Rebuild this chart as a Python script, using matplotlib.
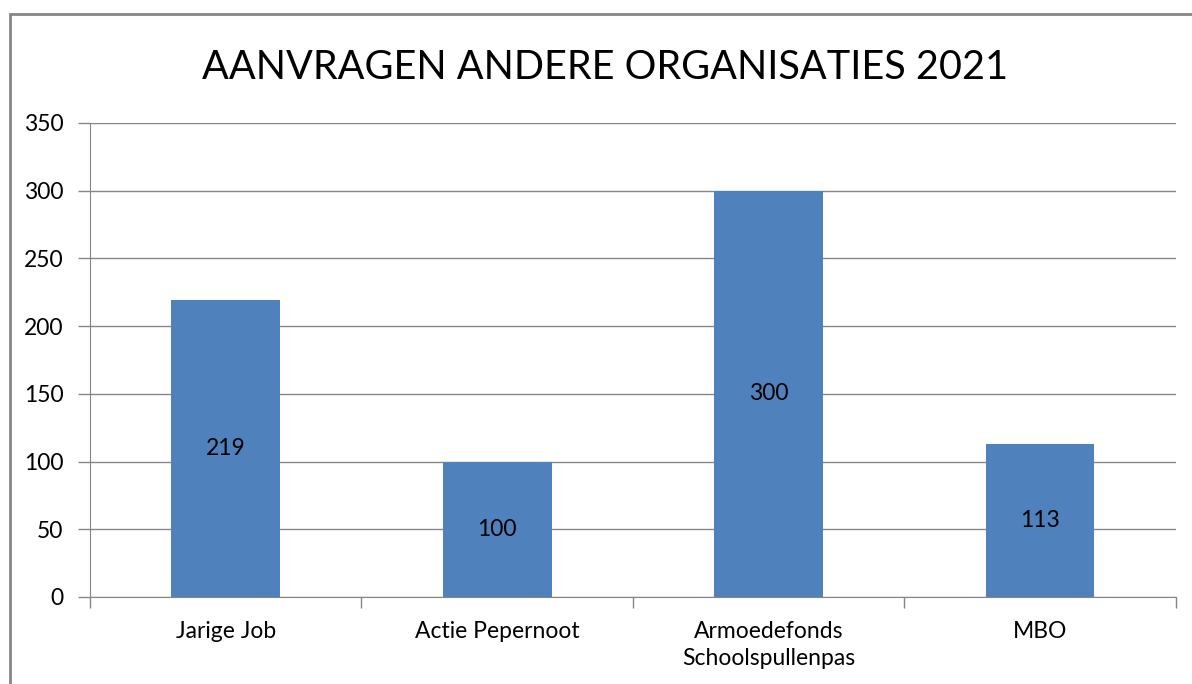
import matplotlib.pyplot as plt
from matplotlib.patches import Rectangle

categories = ['Jarige Job', 'Actie Pepernoot', 'Armoedefonds\nSchoolspullenpas', 'MBO']
values = [219, 100, 300, 113]
yticks = [0, 50, 100, 150, 200, 250, 300, 350]

plt.rcParams['font.family'] = ['Lato', 'DejaVu Sans']

bar_color = '#4F81BD'
grid_color = '#868686'

fig = plt.figure(figsize=(11.92, 6.84), dpi=100)
ax = fig.add_axes([0.0755, 0.1272, 0.911, 0.693])

x = list(range(len(categories)))
bars = ax.bar(x, values, width=0.4, color=bar_color, zorder=3)

# value labels in the middle of each bar
for xi, v in zip(x, values):
    ax.text(xi, v / 2, str(v), ha='center', va='center', fontsize=16.5, color='black', zorder=4)

ax.set_xlim(-0.5, len(categories) - 0.5)
ax.set_ylim(0, 350)
ax.set_yticks(yticks)
ax.set_yticklabels([str(t) for t in yticks], fontsize=16.5)
ax.yaxis.grid(True, color=grid_color, linewidth=1, zorder=0)

# category labels centred, ticks on category boundaries
ax.set_xticks(x)
ax.set_xticklabels(categories, fontsize=16.5, linespacing=1.4)
ax.tick_params(axis='x', length=0, pad=17)
ax.set_xticks([i + 0.5 for i in range(-1, len(categories))], minor=True)
ax.tick_params(axis='x', which='minor', length=8, color=grid_color, width=1)
ax.tick_params(axis='y', length=9, color=grid_color, width=1, pad=10)

for side in ['top', 'right']:
    ax.spines[side].set_visible(False)
ax.spines['left'].set_color(grid_color)
ax.spines['bottom'].set_color(grid_color)

fig.text(0.508, 0.902, 'AANVRAGEN ANDERE ORGANISATIES 2021', ha='center', va='center', fontsize=28.5)

# outer chart border (runs off the right and bottom edge)
fig.patches.append(Rectangle((0.0084, -0.1), 1.1, 1.0795, transform=fig.transFigure,
                             fill=False, edgecolor=grid_color, linewidth=2))

fig.savefig('out.png', dpi=100)
